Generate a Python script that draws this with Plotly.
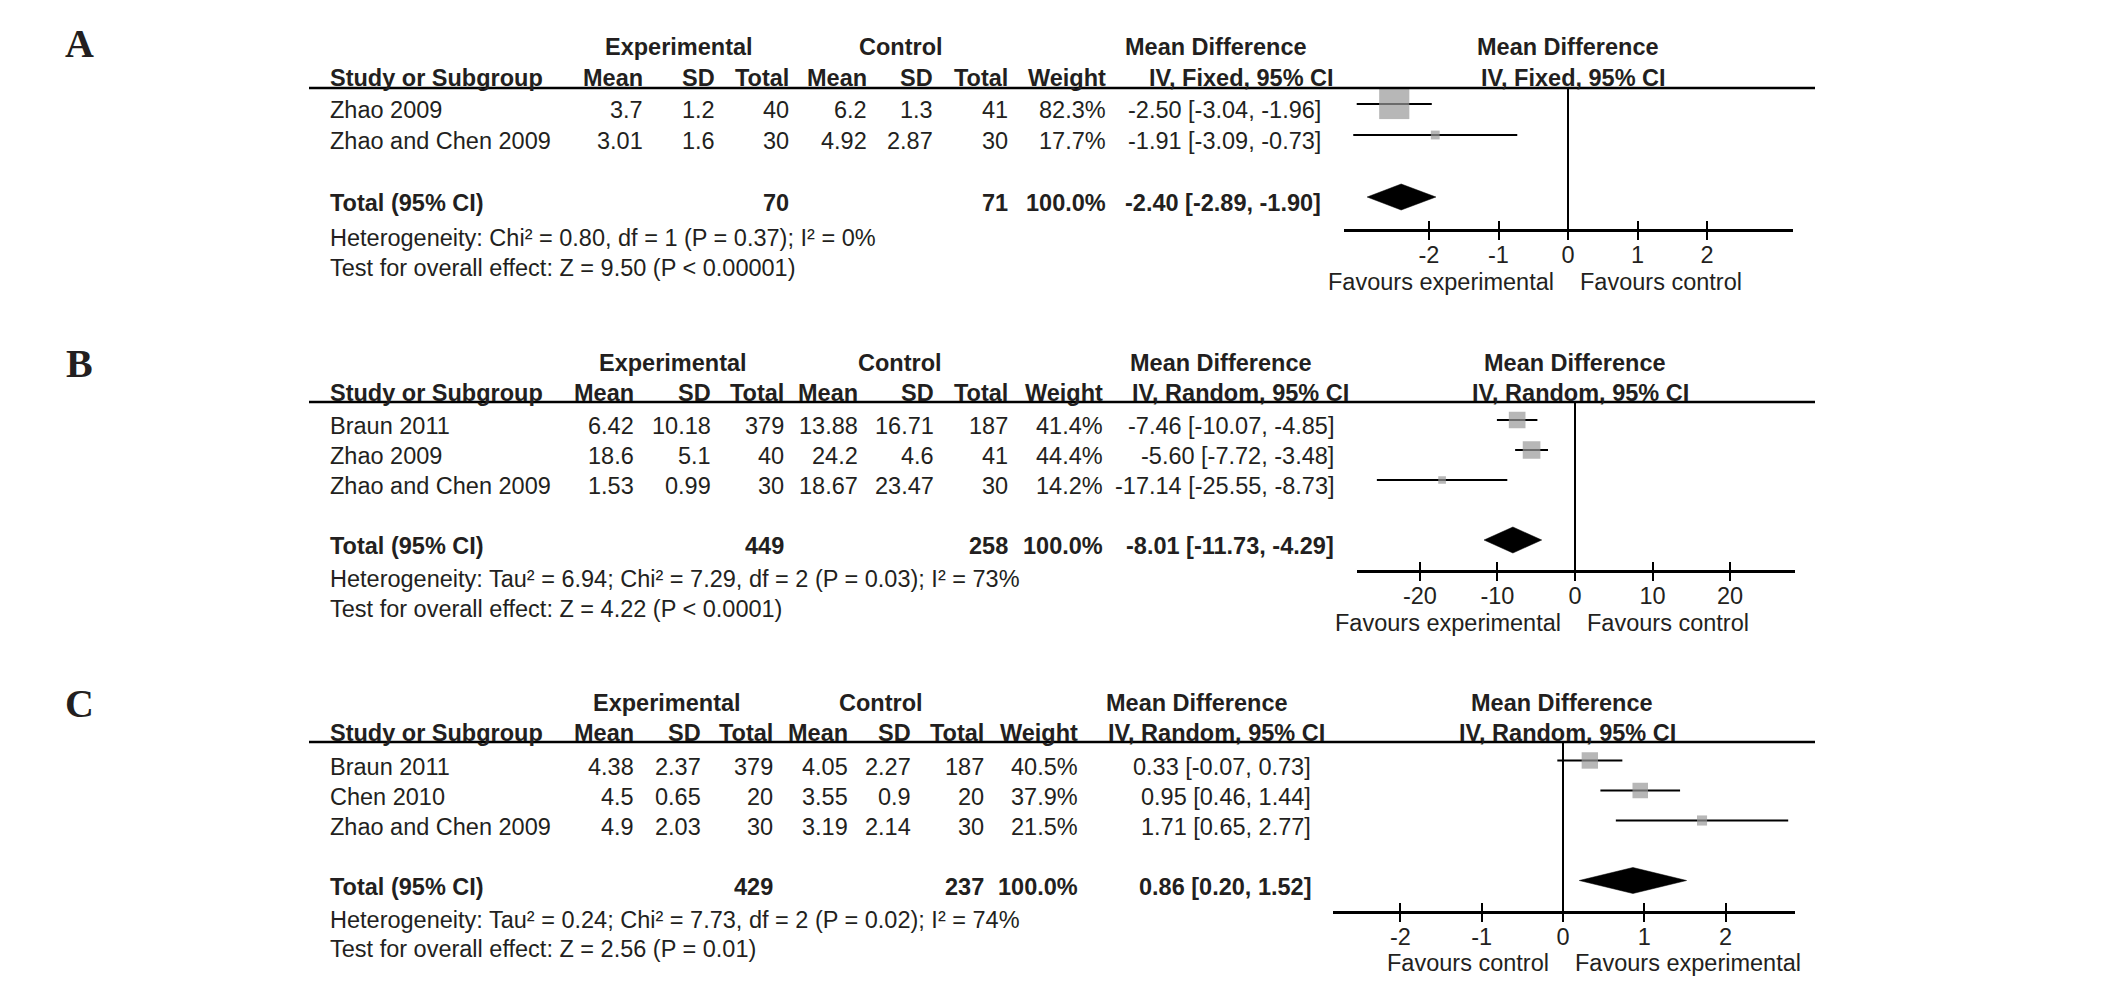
import plotly.graph_objects as go

# ---------------- data: panel A ----------------
A_studies = ["Zhao 2009", "Zhao and Chen 2009"]
A_exp_mean = [3.7, 3.01]
A_exp_sd = [1.2, 1.6]
A_exp_n = [40, 30]
A_ctl_mean = [6.2, 4.92]
A_ctl_sd = [1.3, 2.87]
A_ctl_n = [41, 30]
A_weight = [82.3, 17.7]
A_md = [-2.50, -1.91]
A_lo = [-3.04, -3.09]
A_hi = [-1.96, -0.73]
A_tot_n = [70, 71]
A_tot_weight = 100.0
A_total = [-2.40, -2.89, -1.90]
A_method = "IV, Fixed, 95% CI"
A_het = "Heterogeneity: Chi² = 0.80, df = 1 (P = 0.37); I² = 0%"
A_test = "Test for overall effect: Z = 9.50 (P < 0.00001)"
A_ticks = [-2, -1, 0, 1, 2]
A_tick_labels = ["-2", "-1", "0", "1", "2"]
A_favours = ["Favours experimental", "Favours control"]

# ---------------- data: panel B ----------------
B_studies = ["Braun 2011", "Zhao 2009", "Zhao and Chen 2009"]
B_exp_mean = [6.42, 18.6, 1.53]
B_exp_sd = [10.18, 5.1, 0.99]
B_exp_n = [379, 40, 30]
B_ctl_mean = [13.88, 24.2, 18.67]
B_ctl_sd = [16.71, 4.6, 23.47]
B_ctl_n = [187, 41, 30]
B_weight = [41.4, 44.4, 14.2]
B_md = [-7.46, -5.60, -17.14]
B_lo = [-10.07, -7.72, -25.55]
B_hi = [-4.85, -3.48, -8.73]
B_tot_n = [449, 258]
B_tot_weight = 100.0
B_total = [-8.01, -11.73, -4.29]
B_method = "IV, Random, 95% CI"
B_het = "Heterogeneity: Tau² = 6.94; Chi² = 7.29, df = 2 (P = 0.03); I² = 73%"
B_test = "Test for overall effect: Z = 4.22 (P < 0.0001)"
B_ticks = [-20, -10, 0, 10, 20]
B_tick_labels = ["-20", "-10", "0", "10", "20"]
B_favours = ["Favours experimental", "Favours control"]

# ---------------- data: panel C ----------------
C_studies = ["Braun 2011", "Chen 2010", "Zhao and Chen 2009"]
C_exp_mean = [4.38, 4.5, 4.9]
C_exp_sd = [2.37, 0.65, 2.03]
C_exp_n = [379, 20, 30]
C_ctl_mean = [4.05, 3.55, 3.19]
C_ctl_sd = [2.27, 0.9, 2.14]
C_ctl_n = [187, 20, 30]
C_weight = [40.5, 37.9, 21.5]
C_md = [0.33, 0.95, 1.71]
C_lo = [-0.07, 0.46, 0.65]
C_hi = [0.73, 1.44, 2.77]
C_tot_n = [429, 237]
C_tot_weight = 100.0
C_total = [0.86, 0.20, 1.52]
C_method = "IV, Random, 95% CI"
C_het = "Heterogeneity: Tau² = 0.24; Chi² = 7.73, df = 2 (P = 0.02); I² = 74%"
C_test = "Test for overall effect: Z = 2.56 (P = 0.01)"
C_ticks = [-2, -1, 0, 1, 2]
C_tick_labels = ["-2", "-1", "0", "1", "2"]
C_favours = ["Favours control", "Favours experimental"]

PANEL_LETTERS = ["A", "B", "C"]
HEAD_GROUPS = ["Experimental", "Control", "Mean Difference"]
HEAD_COLS = ["Study or Subgroup", "Mean", "SD", "Total", "Mean", "SD", "Total", "Weight"]
TOTAL_LABEL = "Total (95% CI)"

DATA = [
    dict(studies=A_studies, em=A_exp_mean, esd=A_exp_sd, en=A_exp_n, cm=A_ctl_mean, csd=A_ctl_sd,
         cn=A_ctl_n, w=A_weight, md=A_md, lo=A_lo, hi=A_hi, tn=A_tot_n, tw=A_tot_weight, tot=A_total,
         method=A_method, het=A_het, test=A_test, ticks=A_ticks, tlab=A_tick_labels, fav=A_favours),
    dict(studies=B_studies, em=B_exp_mean, esd=B_exp_sd, en=B_exp_n, cm=B_ctl_mean, csd=B_ctl_sd,
         cn=B_ctl_n, w=B_weight, md=B_md, lo=B_lo, hi=B_hi, tn=B_tot_n, tw=B_tot_weight, tot=B_total,
         method=B_method, het=B_het, test=B_test, ticks=B_ticks, tlab=B_tick_labels, fav=B_favours),
    dict(studies=C_studies, em=C_exp_mean, esd=C_exp_sd, en=C_exp_n, cm=C_ctl_mean, csd=C_ctl_sd,
         cn=C_ctl_n, w=C_weight, md=C_md, lo=C_lo, hi=C_hi, tn=C_tot_n, tw=C_tot_weight, tot=C_total,
         method=C_method, het=C_het, test=C_test, ticks=C_ticks, tlab=C_tick_labels, fav=C_favours),
]

# ---------------- geometry (pixels) ----------------
W, H = 2126, 985
GEOM = [
    dict(label_y=44, group_y=47, head_y=78, line_y=88, row0=104, row_px=31, het_y=238, test_y=268,
         axis_y=229, fav_y=282, cols=[645, 717, 791, 869, 935, 1010, 1108], ci_r=1323,
         exp_c=679, ctl_c=901, md_c=1216, meth_c=1241, pmd_c=1568, pmeth_c=1573,
         ax_l=1344, ax_r=1793, zero=1568, unit=69.5),
    dict(label_y=363, group_y=363, head_y=393, line_y=402, row0=420, row_px=30, het_y=579, test_y=609,
         axis_y=570, fav_y=623, cols=[636, 713, 786, 860, 936, 1010, 1105], ci_r=1336,
         exp_c=673, ctl_c=900, md_c=1221, meth_c=1240, pmd_c=1575, pmeth_c=1580,
         ax_l=1356.7, ax_r=1794.5, zero=1575, unit=7.755),
    dict(label_y=703, group_y=703, head_y=733, line_y=742, row0=760.5, row_px=30, het_y=920, test_y=949,
         axis_y=911, fav_y=963, cols=[636, 703, 775, 850, 913, 986, 1080], ci_r=1313,
         exp_c=667, ctl_c=881, md_c=1197, meth_c=1216, pmd_c=1562, pmeth_c=1567,
         ax_l=1333, ax_r=1794.5, zero=1563, unit=81.3),
]
TEXT_LEFT = 328
LINE_L, LINE_R = 309, 1815
LETTER_X = 79

FONT = "Liberation Sans, Arial, Helvetica, sans-serif"
SERIF = "Liberation Serif, Times New Roman, serif"
TXT = "#231f20"
GRAY = "#999999"
FS = 23.5


def xp(px):
    return px / W


def yp(px):
    return 1 - px / H


def fmt(v):
    return f"{v:g}"


fig = go.Figure()
ann = []
shapes = []
lay = {}


def text(t, x, y, anchor="center", bold=False, size=FS, family=FONT, xref="paper", yref="paper",
         xshift=0, yshift=0):
    ann.append(dict(text=f"<b>{t}</b>" if bold else t, x=x, y=y, xref=xref, yref=yref,
                    xanchor=anchor, yanchor="middle", showarrow=False, xshift=xshift, yshift=yshift,
                    font=dict(family=family, size=size, color=TXT)))


for k, (D, L) in enumerate(zip(DATA, GEOM), start=1):
    xa = "x" if k == 1 else f"x{k}"
    ya = "y" if k == 1 else f"y{k}"
    xo = f"x{k + 3}"
    n = len(D["studies"])
    rows = list(range(n))
    trow = n + 1
    cols = L["cols"]

    # study squares with CI whiskers
    fig.add_trace(go.Scatter(
        x=D["md"], y=rows, xaxis=xa, yaxis=ya, mode="markers",
        marker=dict(symbol="square", color=GRAY, size=[3 + 0.33 * w for w in D["w"]], line=dict(width=0)),
        error_x=dict(type="data", symmetric=False,
                     array=[h - m for h, m in zip(D["hi"], D["md"])],
                     arrayminus=[m - l for m, l in zip(D["md"], D["lo"])],
                     color="black", thickness=2, width=0),
        hoverinfo="skip", showlegend=False))
    # pooled diamond
    est, lo, hi = D["tot"]
    hh = 13 / L["row_px"]
    fig.add_trace(go.Scatter(
        x=[lo, est, hi, est, lo], y=[trow, trow - hh, trow, trow + hh, trow], xaxis=xo, yaxis=ya,
        mode="lines", fill="toself", fillcolor="black", line=dict(color="black", width=0.5),
        hoverinfo="skip", showlegend=False))

    # axes
    x0 = (L["ax_l"] - L["zero"]) / L["unit"]
    x1 = (L["ax_r"] - L["zero"]) / L["unit"]
    top = (L["line_y"] - L["row0"]) / L["row_px"]
    bot = top + (L["axis_y"] - L["line_y"]) / L["row_px"]
    dom = [xp(L["ax_l"]), xp(L["ax_r"])]
    lay["xaxis" if k == 1 else f"xaxis{k}"] = dict(
        domain=dom, range=[x0, x1], anchor=ya, showline=True, linecolor="black", linewidth=2.5,
        ticks="outside", ticklen=8, tickwidth=2, tickcolor="black", tickvals=D["ticks"],
        ticktext=D["tlab"], tickfont=dict(family=FONT, size=FS, color=TXT), ticklabelstandoff=-5,
        showgrid=False, zeroline=True, zerolinecolor="black", zerolinewidth=2, fixedrange=True)
    lay[f"xaxis{k + 3}"] = dict(
        domain=dom, range=[x0, x1], anchor=ya, overlaying=xa, showline=False, ticks="inside",
        ticklen=8, tickwidth=2, tickcolor="black", tickvals=D["ticks"], showticklabels=False,
        showgrid=False, zeroline=False, fixedrange=True)
    lay["yaxis" if k == 1 else f"yaxis{k}"] = dict(
        domain=[yp(L["axis_y"]), yp(L["line_y"])], range=[bot, top], visible=False, fixedrange=True)

    # header line
    shapes.append(dict(type="line", xref="paper", yref="paper", x0=xp(LINE_L), x1=xp(LINE_R),
                       y0=yp(L["line_y"]), y1=yp(L["line_y"]), line=dict(color="black", width=2.5)))

    # panel letter
    text(PANEL_LETTERS[k - 1], xp(LETTER_X), yp(L["label_y"]), bold=True, size=40, family=SERIF)
    # group headers
    gy = yp(L["group_y"])
    text(HEAD_GROUPS[0], xp(L["exp_c"]), gy, bold=True)
    text(HEAD_GROUPS[1], xp(L["ctl_c"]), gy, bold=True)
    text(HEAD_GROUPS[2], xp(L["md_c"]), gy, bold=True)
    text(HEAD_GROUPS[2], xp(L["pmd_c"]), gy, bold=True)
    # column headers
    hy = yp(L["head_y"])
    text(HEAD_COLS[0], xp(TEXT_LEFT), hy, anchor="left", bold=True)
    for c, lab in zip(cols, HEAD_COLS[1:]):
        text(lab, xp(c), hy, anchor="right", bold=True)
    text(D["method"], xp(L["meth_c"]), hy, bold=True)
    text(D["method"], xp(L["pmeth_c"]), hy, bold=True)

    # study rows
    for i in range(n):
        vals = [fmt(D["em"][i]), fmt(D["esd"][i]), str(D["en"][i]), fmt(D["cm"][i]),
                fmt(D["csd"][i]), str(D["cn"][i]), f"{D['w'][i]:.1f}%"]
        text(D["studies"][i], xp(TEXT_LEFT), i, anchor="left", yref=ya, yshift=-6)
        for c, v in zip(cols, vals):
            text(v, xp(c), i, anchor="right", yref=ya, yshift=-6)
        ci = f"{D['md'][i]:.2f} [{D['lo'][i]:.2f}, {D['hi'][i]:.2f}]"
        text(ci, xp(L["ci_r"]), i, anchor="right", yref=ya, yshift=-6)

    # total row
    text(TOTAL_LABEL, xp(TEXT_LEFT), trow, anchor="left", yref=ya, yshift=-6, bold=True)
    text(str(D["tn"][0]), xp(cols[2]), trow, anchor="right", yref=ya, yshift=-6, bold=True)
    text(str(D["tn"][1]), xp(cols[5]), trow, anchor="right", yref=ya, yshift=-6, bold=True)
    text(f"{D['tw']:.1f}%", xp(cols[6]), trow, anchor="right", yref=ya, yshift=-6, bold=True)
    text(f"{est:.2f} [{lo:.2f}, {hi:.2f}]", xp(L["ci_r"]), trow, anchor="right", yref=ya, yshift=-6,
         bold=True)

    # heterogeneity & overall effect
    text(D["het"], xp(TEXT_LEFT), yp(L["het_y"]), anchor="left")
    text(D["test"], xp(TEXT_LEFT), yp(L["test_y"]), anchor="left")

    # favours labels
    fy = yp(L["fav_y"])
    text(D["fav"][0], 0, fy, anchor="right", xref=xa, xshift=-12)
    text(D["fav"][1], 0, fy, anchor="left", xref=xa, xshift=10)

fig.update_layout(
    width=W, height=H, autosize=False, margin=dict(l=0, r=0, t=0, b=0),
    paper_bgcolor="white", plot_bgcolor="white", showlegend=False,
    annotations=ann, shapes=shapes, **lay)

fig.write_html("out.html", config={"displayModeBar": False},
               post_script="document.body.style.margin='0';")
